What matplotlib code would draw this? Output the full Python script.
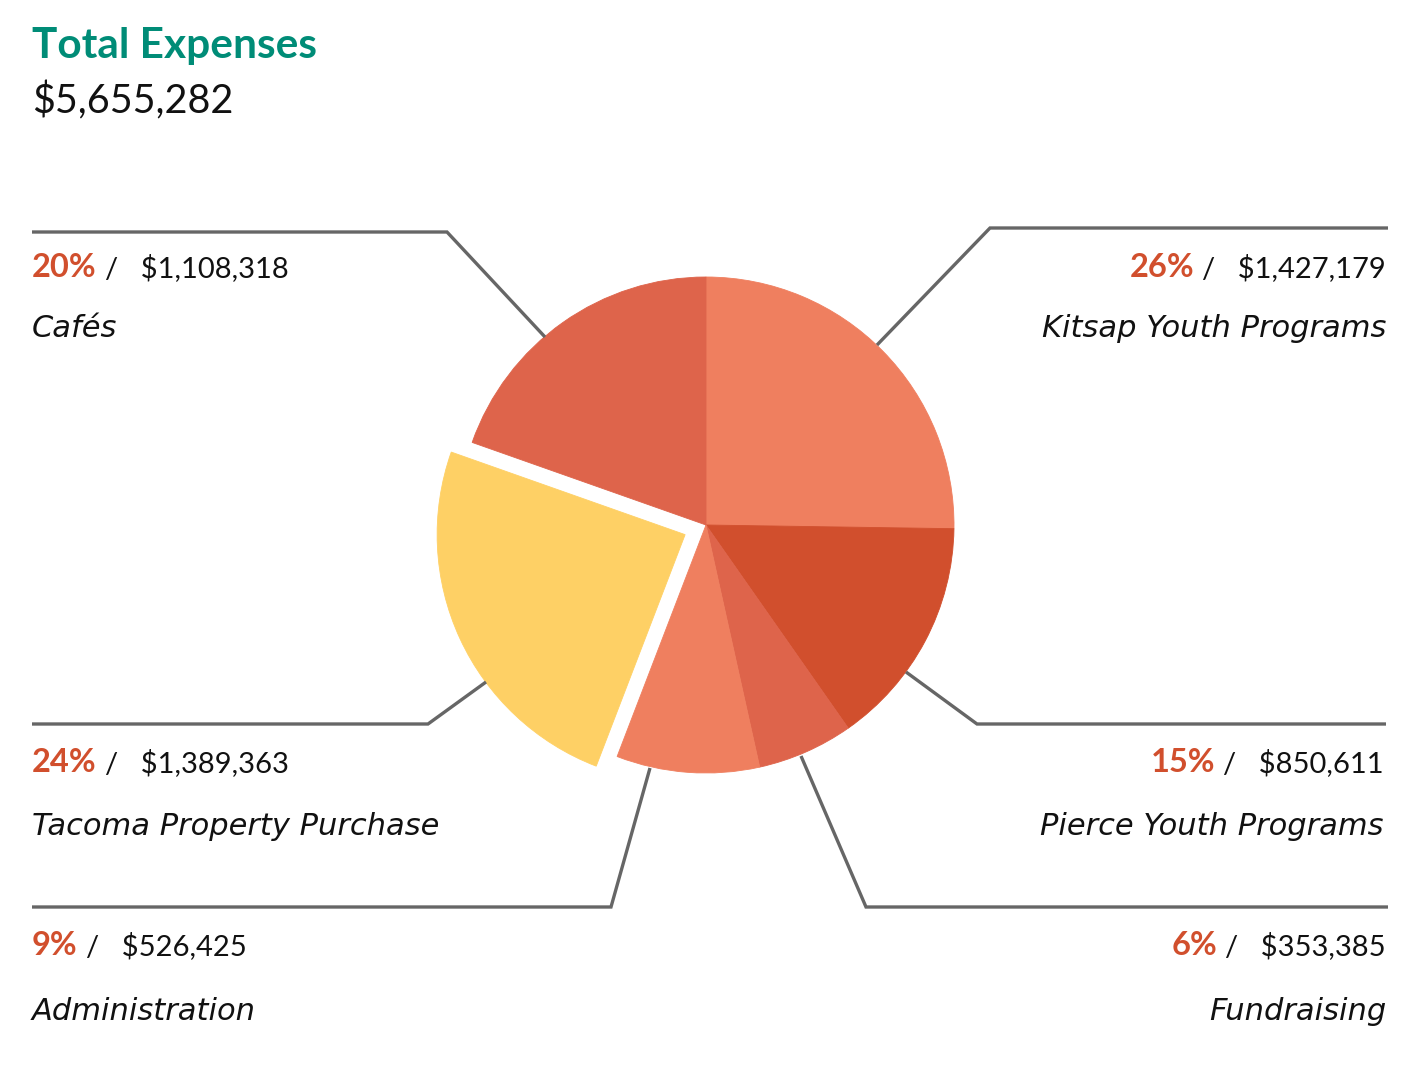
import matplotlib
matplotlib.use("Agg")
import matplotlib.pyplot as plt

# ---- data ----
categories = ["Kitsap Youth Programs", "Pierce Youth Programs", "Fundraising",
              "Administration", "Tacoma Property Purchase", "Cafés"]
amounts = [1427179, 850611, 353385, 526425, 1389363, 1108318]
pct_labels = ["26%", "15%", "6%", "9%", "24%", "20%"]
amount_labels = ["$1,427,179", "$850,611", "$353,385", "$526,425", "$1,389,363", "$1,108,318"]
title = "Total Expenses"
total_label = "$5,655,282"

colors = ["#EF7F5F", "#D14F2D", "#DE644B", "#EF7F5F", "#FED065", "#DE644B"]
explode = [0, 0, 0, 0, 23, 0]

W, H = 1420, 1080
FONT = "Lato"
NAME_FONT = "DejaVu Sans"
PCT_COLOR = "#D14F2D"
LINE_COLOR = "#666666"

def Y(y):
    return H - y

fig = plt.figure(figsize=(W / 100, H / 100), dpi=100)
ax = fig.add_axes([0, 0, 1, 1])

cx, cy, R = 706, 525, 248
ax.pie(amounts, colors=colors, startangle=90, counterclock=False, radius=R,
       center=(cx, Y(cy)), explode=explode, frame=True,
       wedgeprops=dict(linewidth=0.6, antialiased=True))
for w, c in zip(ax.patches, colors):
    w.set_edgecolor(c)
ax.set_xlim(0, W)
ax.set_ylim(0, H)
ax.set_aspect("equal")
ax.axis("off")

# title
ax.text(32, Y(58), title, fontsize=30.5, fontweight="bold", color="#008C77",
        family=FONT, ha="left", va="baseline")
ax.text(32, Y(113), total_label, fontsize=28.5, color="#111111",
        family=FONT, ha="left", va="baseline")

# leader lines (image coords)
leaders = {
    "Cafés": [(545, 337), (447, 232), (32, 232)],
    "Kitsap Youth Programs": [(877, 345), (990, 228), (1388, 228)],
    "Tacoma Property Purchase": [(486, 682), (428, 724), (32, 724)],
    "Pierce Youth Programs": [(906, 672), (977, 724), (1386, 724)],
    "Administration": [(650, 768), (611, 907), (32, 907)],
    "Fundraising": [(801, 756), (866, 907), (1388, 907)],
}
# label anchor: (x, pct baseline, name baseline, align)
anchors = {
    "Cafés": (32, 277, 337, "left"),
    "Kitsap Youth Programs": (1386, 277, 337, "right"),
    "Tacoma Property Purchase": (32, 772, 835, "left"),
    "Pierce Youth Programs": (1384, 772, 835, "right"),
    "Administration": (32, 955, 1020, "left"),
    "Fundraising": (1386, 955, 1020, "right"),
}

for name, pts in leaders.items():
    xs = [p[0] for p in pts]
    ys = [Y(p[1]) for p in pts]
    ax.plot(xs, ys, color=LINE_COLOR, lw=2.4, solid_capstyle="butt",
            solid_joinstyle="miter")

fig.canvas.draw()
renderer = fig.canvas.get_renderer()
AMT = 21
PCT = 23.5
NAME = 22
for name, pct, amt in zip(categories, pct_labels, amount_labels):
    x, yb, yn, al = anchors[name]
    if al == "left":
        t = ax.text(x, Y(yb), pct, fontsize=PCT, fontweight="bold", color=PCT_COLOR,
                    family=FONT, ha="left", va="baseline")
        bb = t.get_window_extent(renderer)
        ax.text(bb.x1 + 8, Y(yb), "/   " + amt, fontsize=AMT, color="#111111",
                family=FONT, ha="left", va="baseline")
    else:
        t = ax.text(x, Y(yb), "/   " + amt, fontsize=AMT, color="#111111",
                    family=FONT, ha="right", va="baseline")
        bb = t.get_window_extent(renderer)
        ax.text(bb.x0 - 8, Y(yb), pct, fontsize=PCT, fontweight="bold", color=PCT_COLOR,
                family=FONT, ha="right", va="baseline")
    ax.text(x, Y(yn), name, fontsize=NAME, style="italic", color="#111111",
            family=NAME_FONT, ha=al, va="baseline")

fig.savefig("out.png", dpi=100)
